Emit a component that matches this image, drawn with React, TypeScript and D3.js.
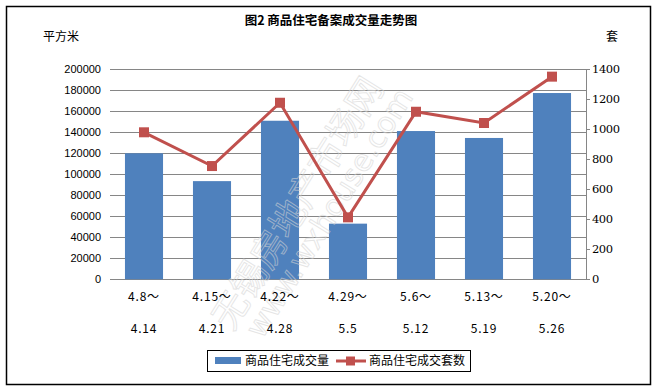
import React from "react";
import * as d3 from "d3";

const categories = ["4.8～|4.14", "4.15～|4.21", "4.22～|4.28", "4.29～|5.5", "5.6～|5.12", "5.13～|5.19", "5.20～|5.26"];
const areaValues = [120000, 93500, 151000, 53000, 141200, 134600, 177400];
const unitValues = [980, 755, 1177, 413, 1117, 1042, 1351];
const leftTicks = [0, 20000, 40000, 60000, 80000, 100000, 120000, 140000, 160000, 180000, 200000];
const rightTicks = [0, 200, 400, 600, 800, 1000, 1200, 1400];
const title = "图2 商品住宅备案成交量走势图";
const leftUnit = "平方米";
const rightUnit = "套";
const seriesNames = ["商品住宅成交量", "商品住宅成交套数"];

const W = 657, H = 391;
const plot = { left: 110, right: 586, top: 69.3, bottom: 279.3 };
const font = "'Noto Sans CJK SC', 'DejaVu Sans', sans-serif";
const barColor = "#4F81BD";
const lineColor = "#C0504D";
const gridColor = "#868686";

export default function App() {
  const x = d3.scaleBand<number>().domain(d3.range(categories.length)).range([plot.left, plot.right]).paddingInner(0.44).paddingOuter(0.22);
  const yL = d3.scaleLinear().domain([0, 200000]).range([plot.bottom, plot.top]);
  const yR = d3.scaleLinear().domain([0, 1400]).range([plot.bottom, plot.top]);
  const cx = (i: number) => (x(i) as number) + x.bandwidth() / 2;
  const line = d3.line<number>().x((_, i) => cx(i)).y((d) => yR(d));

  return (
    <svg width={W} height={H} style={{ position: "absolute", left: 0, top: 0, background: "#fff" }} fontFamily={font}>
      <rect x={0} y={0} width={W} height={H} fill="#fff" />
      <rect x={6.5} y={6.5} width={644} height={378} fill="none" stroke="#000" strokeWidth={1.5} />
      <text x={331} y={25} textAnchor="middle" fontSize={12.5} fontWeight="bold">{title}</text>
      <text x={43} y={41} fontSize={12}>{leftUnit}</text>
      <text x={606} y={41} fontSize={12}>{rightUnit}</text>

      {leftTicks.map((t) => (
        <g key={"l" + t}>
          <line x1={plot.left} x2={plot.right} y1={Math.round(yL(t)) + 0.5} y2={Math.round(yL(t)) + 0.5} stroke={gridColor} strokeWidth={1} />
          <text x={101} y={yL(t) + 4} textAnchor="end" fontSize={11} fontFamily="'Liberation Sans', Arial, sans-serif">{t}</text>
        </g>
      ))}
      <line x1={plot.right + 0.5} x2={plot.right + 0.5} y1={plot.top} y2={plot.bottom} stroke={gridColor} />
      {rightTicks.map((t) => (
        <g key={"r" + t}>
          <line x1={plot.right} x2={plot.right + 4} y1={Math.round(yR(t)) + 0.5} y2={Math.round(yR(t)) + 0.5} stroke={gridColor} />
          <text x={592} y={yR(t) + 4} fontSize={11.5} fontFamily="'DejaVu Serif', serif" textLength={String(t).length * 7} >{t}</text>
        </g>
      ))}

      {areaValues.map((v, i) => (
        <rect key={"b" + i} x={x(i)} y={yL(v)} width={x.bandwidth()} height={plot.bottom - yL(v)} fill={barColor} />
      ))}

      <g opacity={0.6} fill="none" stroke="#d4d4d4" strokeWidth={0.9}>
        <text transform="translate(232,332) rotate(-58)" fontSize={36} fontFamily={font}>无锡房地产市场网</text>
        <text transform="translate(262,340) rotate(-58)" fontSize={30} fontFamily="'DejaVu Sans', sans-serif">www.wxhouse.com</text>
      </g>

      <path d={line(unitValues) || ""} fill="none" stroke={lineColor} strokeWidth={3} />
      {unitValues.map((v, i) => (
        <rect key={"m" + i} x={cx(i) - 5} y={yR(v) - 5} width={10} height={10} fill={lineColor} />
      ))}

      {categories.map((c, i) => {
        const [a, b] = c.split("|");
        return (
          <g key={"x" + i} fontSize={12} textAnchor="middle" letterSpacing={0.8}>
            <text x={cx(i)} y={301}>{a}</text>
            <text x={cx(i)} y={333}>{b}</text>
          </g>
        );
      })}

      <rect x={207.5} y={350.5} width={263} height={21} fill="#fff" stroke="#000" strokeWidth={1} />
      <rect x={215} y={357} width={26} height={7} fill={barColor} />
      <text x={245} y={365} fontSize={12}>{seriesNames[0]}</text>
      <line x1={336} x2={366} y1={361} y2={361} stroke={lineColor} strokeWidth={3} />
      <rect x={346} y={356.5} width={9} height={9} fill={lineColor} />
      <text x={369} y={365} fontSize={12}>{seriesNames[1]}</text>
    </svg>
  );
}
